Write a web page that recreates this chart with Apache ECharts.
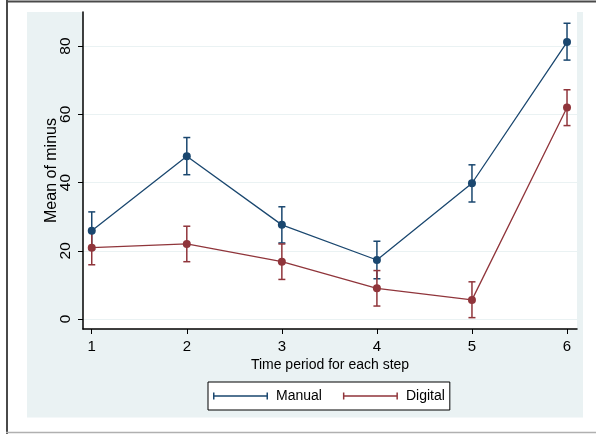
<!DOCTYPE html>
<html><head><meta charset="utf-8">
<script src="https://cdn.jsdelivr.net/npm/echarts@6/dist/echarts.min.js"></script>
<style>html,body{margin:0;padding:0;background:#fff}#c{width:596px;height:434px}</style>
</head><body><div id="c"></div>
<script>
const steps = [1, 2, 3, 4, 5, 6];
const manualMean = [25.9, 47.7, 27.6, 17.3, 39.8, 81.2];
const manualLow  = [20.4, 42.3, 22.3, 11.8, 34.3, 75.9];
const manualHigh = [31.4, 53.2, 32.9, 22.8, 45.2, 86.7];
const digitalMean = [20.9, 22.0, 16.8, 9.0, 5.6, 62.0];
const digitalLow  = [15.9, 16.8, 11.6, 3.8, 0.4, 56.7];
const digitalHigh = [25.9, 27.2, 22.0, 14.2, 10.9, 67.2];
const yTicks = [0, 20, 40, 60, 80];
const xTicks = [1, 2, 3, 4, 5, 6];

const FONT = "'Liberation Sans', Arial, sans-serif";
const NAVY = '#1a476f';
const MAROON = '#90353b';
const capPath = 'path://M0,0H1.5V7H0Z M0,2.8H55V4.2H0Z M53.5,0H55V7H53.5Z';

function errRender(color) {
  return function (params, api) {
    const x = api.value(0), lo = api.value(1), hi = api.value(2);
    const pLo = api.coord([x, lo]), pHi = api.coord([x, hi]);
    const w = 3.5;
    const style = { stroke: color, lineWidth: 1.5, fill: null };
    return { type: 'group', children: [
      { type: 'line', shape: { x1: pLo[0], y1: pLo[1], x2: pHi[0], y2: pHi[1] }, style: style },
      { type: 'line', shape: { x1: pLo[0] - w, y1: pLo[1], x2: pLo[0] + w, y2: pLo[1] }, style: style },
      { type: 'line', shape: { x1: pHi[0] - w, y1: pHi[1], x2: pHi[0] + w, y2: pHi[1] }, style: style }
    ]};
  };
}

const chart = echarts.init(document.getElementById('c'), null, { renderer: 'canvas' });
chart.setOption({
  animation: false,
  backgroundColor: '#fff',
  textStyle: { fontFamily: FONT },
  graphic: [
    { type: 'rect', z: -100, shape: { x: 27, y: 12, width: 556, height: 405.5 }, style: { fill: '#eaf2f3' } },
    { type: 'line', z: -100, shape: { x1: 6, y1: 1.5, x2: 596, y2: 1.5 }, style: { stroke: '#4a4a4a', lineWidth: 2 } },
    { type: 'line', z: -100, shape: { x1: 7, y1: 0, x2: 7, y2: 434 }, style: { stroke: '#4a4a4a', lineWidth: 2 } },
    { type: 'line', z: -100, shape: { x1: 6, y1: 432.5, x2: 596, y2: 432.5 }, style: { stroke: '#b0b0b0', lineWidth: 1.5 } }
  ],
  grid: { left: 83, right: 19, top: 12, bottom: 105, show: true, backgroundColor: '#fff', borderWidth: 0 },
  legend: {
    data: [{ name: 'Manual', icon: capPath }, { name: 'Digital', icon: capPath }],
    left: 208, top: 382, orient: 'horizontal',
    itemWidth: 55, itemHeight: 7, itemGap: 21,
    padding: [7, 5, 7, 5],
    borderColor: '#000', borderWidth: 1, backgroundColor: '#fff',
    itemStyle: { borderWidth: 0 },
    textStyle: { fontSize: 14, color: '#000', fontFamily: FONT, padding: [0, 0, 0, 3] },
    selectedMode: false
  },
  xAxis: {
    type: 'value', min: 0.908, max: 6.105,
    name: 'Time period for each step', nameLocation: 'middle', nameGap: 29, nameMoveOverlap: false,
    nameTextStyle: { fontSize: 14, color: '#000', fontFamily: FONT },
    axisLine: { show: true, onZero: false, lineStyle: { color: '#000', width: 1.5 } },
    axisTick: { show: true, customValues: xTicks, length: 5, lineStyle: { color: '#000', width: 1 } },
    axisLabel: { customValues: xTicks, fontSize: 15, color: '#000', margin: 10, fontFamily: FONT },
    splitLine: { show: false }
  },
  yAxis: {
    type: 'value', min: -2.93, max: 90,
    name: 'Mean of minus', nameLocation: 'middle', nameGap: 23, nameRotate: 90, nameMoveOverlap: false,
    nameTextStyle: { fontSize: 16, color: '#000', fontFamily: FONT },
    axisLine: { show: true, onZero: false, lineStyle: { color: '#000', width: 1.5 } },
    axisTick: { show: true, customValues: yTicks, length: 5, lineStyle: { color: '#000', width: 1 } },
    axisLabel: { customValues: yTicks, rotate: 90, fontSize: 15.5, color: '#000', margin: 9, fontFamily: FONT },
    splitLine: { show: true, lineStyle: { color: '#eaf2f3', width: 1.2 } }
  },
  series: [
    { name: 'ManualErr', type: 'custom', renderItem: errRender(NAVY), z: 2,
      data: steps.map((s, i) => [s, manualLow[i], manualHigh[i]]), encode: { x: 0, y: [1, 2] } },
    { name: 'DigitalErr', type: 'custom', renderItem: errRender(MAROON), z: 2,
      data: steps.map((s, i) => [s, digitalLow[i], digitalHigh[i]]), encode: { x: 0, y: [1, 2] } },
    { name: 'Manual', type: 'line', z: 3, color: NAVY, symbol: 'circle', symbolSize: 8,
      lineStyle: { width: 1.3, color: NAVY }, itemStyle: { color: NAVY },
      data: steps.map((s, i) => [s, manualMean[i]]) },
    { name: 'Digital', type: 'line', z: 3, color: MAROON, symbol: 'circle', symbolSize: 8,
      lineStyle: { width: 1.3, color: MAROON }, itemStyle: { color: MAROON },
      data: steps.map((s, i) => [s, digitalMean[i]]) }
  ]
});
</script></body></html>
